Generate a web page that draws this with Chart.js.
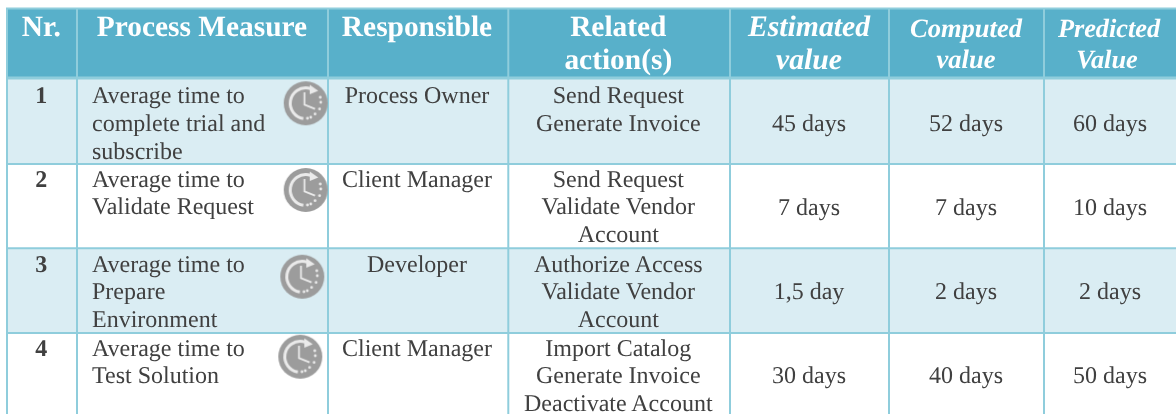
<!DOCTYPE html>
<html><head><meta charset="utf-8">
<style>html,body{margin:0;padding:0;background:#fff}#w{width:1176px;height:414px;position:relative;overflow:hidden}canvas{filter:blur(0.35px)}</style>
<script src="https://cdn.jsdelivr.net/npm/chart.js@4"></script>
</head><body><div id="w"><canvas id="c" width="1176" height="414"></canvas></div>
<script>
const rowNumbers = ['1','2','3','4'];
const measures = [['Average time to','complete trial and','subscribe'],['Average time to','Validate Request'],['Average time to','Prepare','Environment'],['Average time to','Test Solution']];
const responsible = ['Process Owner','Client Manager','Developer','Client Manager'];
const actions = [['Send Request','Generate Invoice'],['Send Request','Validate Vendor','Account'],['Authorize Access','Validate Vendor','Account'],['Import Catalog','Generate Invoice','Deactivate Account']];
const estimated = ['45 days','7 days','1,5 day','30 days'];
const computed = ['52 days','7 days','2 days','40 days'];
const predicted = ['60 days','10 days','2 days','50 days'];

// layout
const colLines = [7,77,328,508.3,730,889,1044];
const rowLines = [8.5,78,164,248.3,333];
const firstBase = [103.3,186.7,271.7,355.7];
const valueBase = [131,215,299.3,383.3];
const LH = 27.6;
const clockSpots = [{x:305.7,y:103.3},{x:305.7,y:190},{x:302.3,y:276.7},{x:300.3,y:356.7}];
const FILL_H='#58b0ca', FILL_R='#daedf3', LINE='#8fcddc', TXT='#404040';
const SERIF='"Liberation Serif"';

function makeClock(){
  const R=22,S=46,cv=document.createElement('canvas');cv.width=S;cv.height=S;
  const g=cv.getContext('2d'),c=S/2;
  g.fillStyle='#9c9c9c';g.beginPath();g.arc(c,c,R,0,Math.PI*2);g.fill();
  g.strokeStyle='#eaeaea';g.fillStyle='#eaeaea';g.lineWidth=3;
  g.beginPath();g.arc(c,c,15.5,Math.PI*0.55,Math.PI*1.68);g.stroke();
  g.beginPath();g.moveTo(c+12.5,c-12.5);g.lineTo(c+4,c-18.5);g.lineTo(c+4,c-9);g.closePath();g.fill();
  [[14.5,-6],[15,-1],[13.8,5.7],[9.3,10.7],[5,14],[1.7,15]].forEach(p=>{g.beginPath();g.arc(c+p[0],c+p[1],1.4,0,Math.PI*2);g.fill();});
  g.lineWidth=1.8;g.beginPath();g.moveTo(c-1.3,c-11);g.lineTo(c-1.3,c+1.3);g.lineTo(c+9.3,c+5.7);g.stroke();
  return cv;
}

const tablePlugin={id:'table',beforeDatasetsDraw(chart){
  const {ctx,scales:{x,y}}=chart;
  const X=v=>x.getPixelForValue(v),Y=v=>y.getPixelForValue(v);
  ctx.save();
  ctx.textRendering='geometricPrecision';
  ctx.fillStyle=FILL_H;ctx.fillRect(X(colLines[0]),Y(rowLines[0]),1176-X(colLines[0]),Y(rowLines[1])-Y(rowLines[0]));
  ctx.fillStyle=FILL_R;
  [1,3].forEach(i=>ctx.fillRect(X(colLines[0]),Y(rowLines[i]),1176-X(colLines[0]),Y(rowLines[i+1])-Y(rowLines[i])));
  ctx.strokeStyle=LINE;
  ctx.lineWidth=2;
  colLines.forEach(v=>{ctx.beginPath();ctx.moveTo(X(v),Y(rowLines[0]));ctx.lineTo(X(v),414);ctx.stroke();});
  rowLines.forEach((v,i)=>{ctx.lineWidth=i==1?2.8:2;ctx.beginPath();ctx.moveTo(X(colLines[0])-1,Y(v));ctx.lineTo(1176,Y(v));ctx.stroke();});
  const put=(s,px,py,font,col,align)=>{ctx.font=font;ctx.fillStyle=col;ctx.textAlign=align||'center';ctx.textBaseline='alphabetic';ctx.fillText(s,X(px),Y(py));};
  const HB='bold 29.4px '+SERIF;
  put('Nr.',41.3,35.7,HB,'#fff');
  put('Process Measure',202,35.7,HB,'#fff');
  put('Responsible',417,35.7,HB,'#fff');
  put('Related',618.3,35.7,HB,'#fff');
  put('action(s)',618.3,69,HB,'#fff');
  const HI='italic bold 29.7px '+SERIF;
  put('Estimated',809,35.7,HI,'#fff');put('value',809,69,HI,'#fff');
  const HI2='italic bold 26.5px '+SERIF;
  put('Computed',966,37,HI2,'#fff');put('value',966,68,HI2,'#fff');
  const HI3='italic bold 26.3px '+SERIF;
  put('Predicted',1109,37,HI3,'#fff');put('Value',1107,68,HI3,'#fff');
  const B='24px '+SERIF,BB='bold 24px '+SERIF;
  rowNumbers.forEach((n,i)=>{
    const b=firstBase[i];
    put(n,41.3,b,BB,TXT);
    measures[i].forEach((s,k)=>put(s,92,b+LH*k,B,TXT,'left'));
    put(responsible[i],417,b,B,TXT);
    actions[i].forEach((s,k)=>put(s,618.3,b+LH*k,B,TXT));
    const v=valueBase[i];
    put(estimated[i],809,v,B,TXT);put(computed[i],966,v,B,TXT);put(predicted[i],1110,v,B,TXT);
  });
  ctx.restore();
}};

new Chart(document.getElementById('c'),{
  type:'scatter',
  data:{datasets:[{label:'clock',data:clockSpots,pointStyle:makeClock(),pointRadius:22,pointHoverRadius:22,clip:false}]},
  options:{responsive:false,animation:false,layout:{padding:0,autoPadding:false},
    plugins:{legend:{display:false},tooltip:{enabled:false},title:{display:false}},
    scales:{x:{type:'linear',min:0,max:1176,display:false},y:{type:'linear',min:0,max:414,reverse:true,display:false}}},
  plugins:[tablePlugin]
});
</script></body></html>
